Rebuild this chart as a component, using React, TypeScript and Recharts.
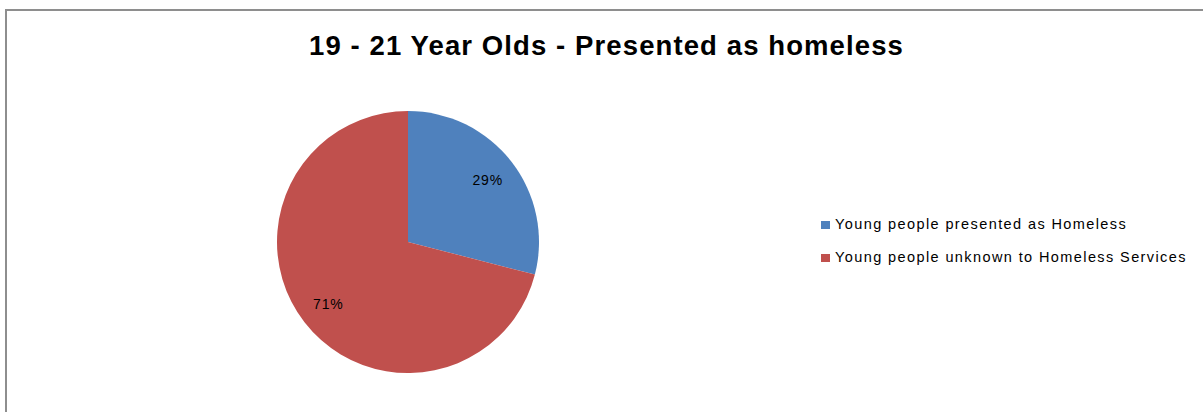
import { PieChart, Pie, Cell } from 'recharts';

const categories = ['Young people presented as Homeless', 'Young people unknown to Homeless Services'];
const shares = [29, 71];
const colors = ['#4F81BD', '#C0504D'];

const data = categories.map((name, i) => ({ name, value: shares[i] }));

const RADIAN = Math.PI / 180;
const FONT = "'Liberation Sans', Arial, sans-serif";

function renderLabel(props: any) {
  const { cx, cy, midAngle, outerRadius, percent } = props;
  const r = outerRadius * 0.77;
  const x = cx + r * Math.cos(-midAngle * RADIAN);
  const y = cy + r * Math.sin(-midAngle * RADIAN);
  return (
    <text x={x} y={y} fill="#000" textAnchor="middle" dominantBaseline="central"
      fontSize={14} letterSpacing={0.8} fontFamily={FONT}>
      {`${Math.round(percent * 100)}%`}
    </text>
  );
}

export default function App() {
  return (
    <div style={{ position: 'absolute', left: 0, top: 0, width: 1203, height: 412, overflow: 'hidden', background: '#fff' }}>
      <div style={{ position: 'absolute', left: 5, top: 9, width: 1300, height: 500, borderTop: '2px solid #8E8E8E', borderLeft: '2px solid #8E8E8E' }} />
      <div style={{ position: 'absolute', left: 0, top: 30, width: 1213, textAlign: 'center', fontFamily: FONT, fontWeight: 'bold', fontSize: 27.5, letterSpacing: 1.1, color: '#000', whiteSpace: 'nowrap' }}>
        19 - 21 Year Olds - Presented as homeless
      </div>
      <div style={{ position: 'absolute', left: 0, top: 0 }}>
        <PieChart width={1203} height={412} margin={{ top: 0, right: 0, bottom: 0, left: 0 }}>
          <Pie data={data} dataKey="value" nameKey="name" cx={408} cy={242} outerRadius={131}
            startAngle={90} endAngle={-270} label={renderLabel} labelLine={false} stroke="none"
            isAnimationActive={false}>
            {data.map((d, i) => <Cell key={d.name} fill={colors[i]} />)}
          </Pie>
        </PieChart>
      </div>
      <div style={{ position: 'absolute', left: 821, top: 208, fontFamily: FONT, fontSize: 14.5, letterSpacing: 1.4, color: '#000', whiteSpace: 'nowrap' }}>
        {categories.map((c, i) => (
          <div key={c} style={{ position: 'relative', height: 33 }}>
            <span style={{ position: 'absolute', left: 0, top: 13, width: 9, height: 8, background: colors[i] }} />
            <span style={{ position: 'absolute', left: 14, top: 8 }}>{c}</span>
          </div>
        ))}
      </div>
    </div>
  );
}
